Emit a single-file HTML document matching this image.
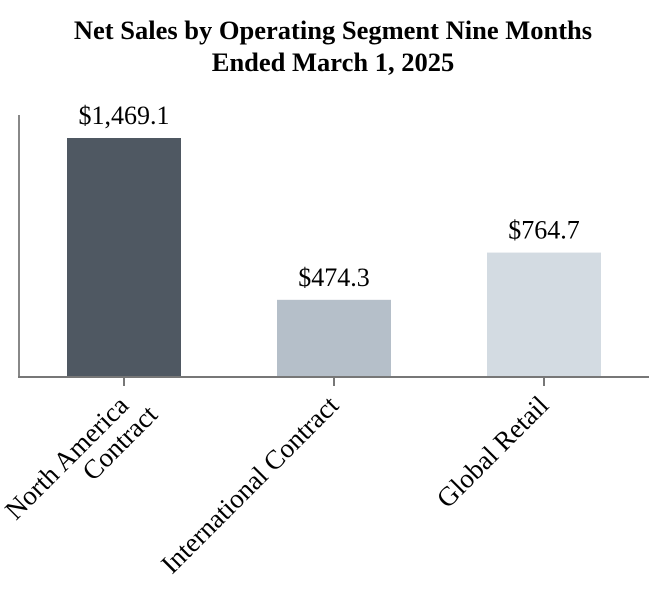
<!DOCTYPE html>
<html><head><meta charset="utf-8"><style>
body{margin:0;background:#fff;}
svg{display:block;font-family:"Liberation Serif",serif;}
</style></head><body>
<svg width="666" height="600">
<text x="333" y="39" text-anchor="middle" font-size="26.5" font-weight="bold">Net Sales by Operating Segment Nine Months</text>
<text x="333" y="71" text-anchor="middle" font-size="26.5" font-weight="bold">Ended March 1, 2025</text>
<g id="plot"></g>
<line x1="19" y1="115" x2="19" y2="378" stroke="#888" stroke-width="2"/>
<line x1="18" y1="377" x2="649" y2="377" stroke="#777" stroke-width="2"/>
</svg>
<script>
const categories=[["North America","Contract"],["International Contract"],["Global Retail"]];
const values=[1469.1,474.3,764.7];
const valueLabels=["$1,469.1","$474.3","$764.7"];
const colors=["#4f5862","#b5bfc9","#d3dbe2"];
const ns="http://www.w3.org/2000/svg";
const g=document.getElementById("plot");
const x0=19,x1=649,y0=377,scale=239/1469.1;
const band=(x1-x0)/categories.length;
const yPos=v=>y0-v*scale;
const xCenter=i=>x0+band*(i+0.5);
const bw=114;
categories.forEach((c,i)=>{
 const cx=xCenter(i);
 const r=document.createElementNS(ns,"rect");
 r.setAttribute("x",cx-bw/2);r.setAttribute("y",yPos(values[i]));
 r.setAttribute("width",bw);r.setAttribute("height",y0-yPos(values[i]));
 r.setAttribute("fill",colors[i]);
 
 
 g.appendChild(r);
 const t=document.createElementNS(ns,"text");
 t.setAttribute("x",cx);t.setAttribute("y",yPos(values[i])-14);
 t.setAttribute("text-anchor","middle");t.setAttribute("font-size","26");
 t.textContent=valueLabels[i];
 
 
 g.appendChild(t);
 const tk=document.createElementNS(ns,"line");
 tk.setAttribute("x1",cx);tk.setAttribute("x2",cx);tk.setAttribute("y1",y0);tk.setAttribute("y2",y0+9);
 tk.setAttribute("stroke","#777");tk.setAttribute("stroke-width","2");
 
 
 g.appendChild(tk);
 const lt=document.createElementNS(ns,"text");
 lt.setAttribute("transform",`translate(${cx+6},${y0+30}) rotate(-45)`);
 lt.setAttribute("text-anchor","end");lt.setAttribute("font-size","27");
 
 
 c.forEach((line,j)=>{
  const ts=document.createElementNS(ns,"tspan");
  ts.setAttribute("x",j*14);ts.setAttribute("y",j*27);
  ts.textContent=line;lt.appendChild(ts);
 });
 g.appendChild(lt);
});
</script>
</body></html>
